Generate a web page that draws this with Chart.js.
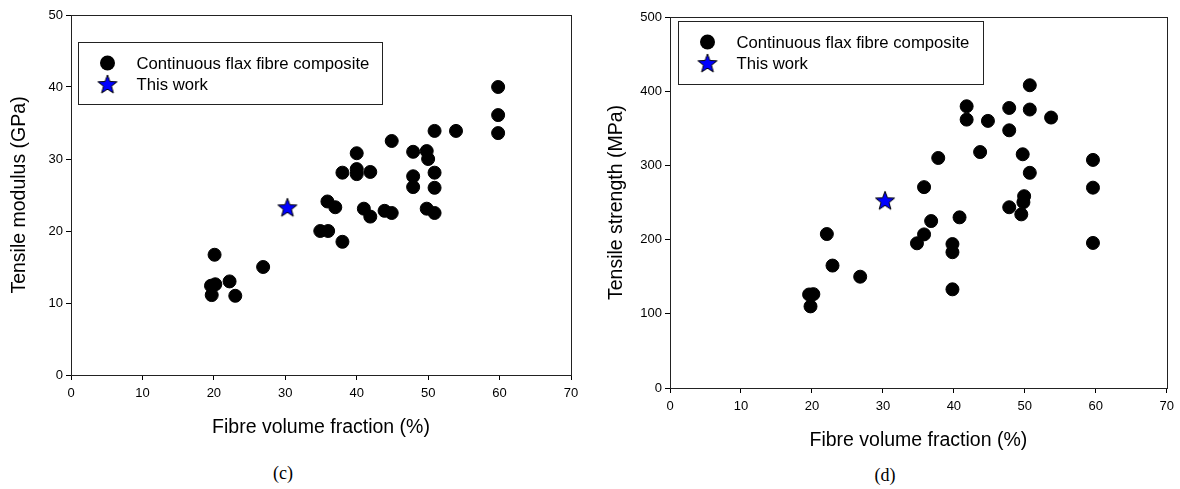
<!DOCTYPE html>
<html>
<head>
<meta charset="utf-8">
<script src="https://cdn.jsdelivr.net/npm/chart.js@4.4.0/dist/chart.umd.min.js"></script>
<style>
  body { margin: 0; background: #fff; }
  #wrap { position: relative; width: 1180px; height: 489px; overflow: hidden; }
  canvas { position: absolute; top: 0; }
  .caption { position: absolute; font-family: 'Liberation Serif', 'Times New Roman', serif; font-size: 18px; color: #000; transform: translate(-50%, -50%); }
</style>
</head>
<body>
<div id="wrap">
  <canvas id="modulus-chart" width="590" height="445" style="left:0px"></canvas>
  <canvas id="strength-chart" width="590" height="460" style="left:590px"></canvas>
  <div class="caption" style="left:283px; top:473px">(c)</div>
  <div class="caption" style="left:885px; top:475px">(d)</div>
</div>
<script>
// Fibre volume fraction (%) vs tensile modulus (GPa), literature data
const modulusFibre = [19.7, 19.6, 20.2, 20.1, 22.2, 23.0, 26.9, 34.9, 36.0, 35.9, 37.0, 38.0, 38.0,
    40.0, 40.0, 40.0, 41.0, 41.9, 41.9, 43.9, 44.9, 44.9, 47.9, 47.9, 47.9,
    49.8, 50.0, 49.8, 50.9, 50.9, 50.9, 50.9, 53.9, 59.8, 59.8, 59.8];
const modulusValue = [11.1, 12.4, 12.6, 16.7, 13.0, 11.0, 15.0, 20.0, 20.0, 24.1, 23.3, 18.5, 28.1,
    30.8, 28.6, 27.9, 23.1, 22.0, 28.2, 22.8, 22.5, 32.5, 31.0, 27.6, 26.1,
    31.1, 30.0, 23.1, 22.5, 33.9, 28.1, 26.0, 33.9, 40.0, 36.1, 33.6];
const modulusWorkFibre = [30.3];
const modulusWorkValue = [23.3];

// Fibre volume fraction (%) vs tensile strength (MPa), literature data
const strengthFibre = [19.6, 20.2, 19.8, 22.1, 22.9, 26.8, 34.8, 35.8, 35.8, 36.8, 37.8,
    39.8, 39.8, 39.8, 40.8, 41.8, 41.8, 43.7, 44.8, 47.8, 47.8, 47.8,
    49.7, 49.9, 49.8, 49.5, 50.7, 50.7, 50.7, 53.7, 59.6, 59.6, 59.6];
const strengthValue = [126, 126.5, 110, 207.5, 165, 150, 195, 207, 270.7, 225, 310,
    194, 183, 133, 230, 379.7, 361.7, 318, 360, 377.4, 347.3, 243.6,
    315, 258.5, 250.4, 234, 408, 375.3, 290, 364.5, 307.4, 270, 195.5];
const strengthWorkFibre = [30.3];
const strengthWorkValue = [253];

const xTicks = [0, 10, 20, 30, 40, 50, 60, 70];
const modulusTicks = [0, 10, 20, 30, 40, 50];
const strengthTicks = [0, 100, 200, 300, 400, 500];

const seriesLabels = ['Continuous flax fibre composite', 'This work'];

const SANS = "'Liberation Sans', Arial, Helvetica, sans-serif";

function toPoints(xs, ys) {
    return xs.map((x, i) => ({ x: x, y: ys[i] }));
}

// Filled blue star with black outline, used as point style
function makeStar(size) {
    const c = document.createElement('canvas');
    c.width = size;
    c.height = size;
    const g = c.getContext('2d');
    const R = size / 2 - 1;
    const r = R * 0.42;
    const cx = size / 2;
    const cy = size / 2 + (R - R * Math.cos(Math.PI / 5)) / 2;
    g.beginPath();
    for (let i = 0; i < 10; i++) {
        const a = -Math.PI / 2 + i * Math.PI / 5;
        const rad = i % 2 ? r : R;
        g.lineTo(cx + rad * Math.cos(a), cy + rad * Math.sin(a));
    }
    g.closePath();
    g.fillStyle = '#0000ff';
    g.fill();
    g.strokeStyle = '#000';
    g.lineWidth = 1;
    g.stroke();
    return c;
}
const starImage = makeStar(22);

// Box around the plot area (top and right edges too)
const framePlugin = {
    id: 'frame',
    beforeDatasetsDraw(chart) {
        const a = chart.chartArea;
        const ctx = chart.ctx;
        ctx.save();
        ctx.strokeStyle = '#222';
        ctx.lineWidth = 1;
        ctx.strokeRect(Math.round(a.left) + 0.5, Math.round(a.top) + 0.5,
            Math.round(a.right - a.left), Math.round(a.bottom - a.top));
        ctx.restore();
    }
};

// Framed legend inside the plot, like the original figure
const boxLegendPlugin = {
    id: 'boxLegend',
    afterDraw(chart, args, opts) {
        const a = chart.chartArea;
        const ctx = chart.ctx;
        const bx = Math.round(a.left + opts.dx) + 0.5;
        const by = Math.round(a.top + opts.dy) + 0.5;
        ctx.save();
        ctx.fillStyle = '#fff';
        ctx.fillRect(bx, by, opts.w, opts.h);
        ctx.strokeStyle = '#222';
        ctx.lineWidth = 1;
        ctx.strokeRect(bx, by, opts.w, opts.h);

        const mx = bx + 29;
        const y1 = by + 20.5;
        const y2 = by + 41.5;
        ctx.fillStyle = '#000';
        ctx.beginPath();
        ctx.arc(mx, y1, 7.5, 0, Math.PI * 2);
        ctx.fill();
        ctx.drawImage(starImage, mx - 11, y2 - 11);

        ctx.font = '16.7px ' + SANS;
        ctx.textBaseline = 'middle';
        ctx.fillStyle = '#000';
        ctx.fillText(chart.data.datasets[0].label, bx + 58, y1 + 1);
        ctx.fillText(chart.data.datasets[1].label, bx + 58, y2 + 1);
        ctx.restore();
    }
};

function buildChart(canvasId, cfg) {
    const ctx = document.getElementById(canvasId).getContext('2d');
    return new Chart(ctx, {
        type: 'scatter',
        data: {
            datasets: [
                {
                    label: seriesLabels[0],
                    data: toPoints(cfg.xs, cfg.ys),
                    pointStyle: 'circle',
                    pointRadius: 6.5,
                    pointBorderWidth: 1,
                    backgroundColor: '#000',
                    borderColor: '#000',
                    order: 1
                },
                {
                    label: seriesLabels[1],
                    data: toPoints(cfg.workX, cfg.workY),
                    pointStyle: starImage,
                    pointRadius: 11,
                    order: 0
                }
            ]
        },
        options: {
            responsive: false,
            animation: false,
            layout: { padding: { left: 0, top: cfg.top, right: cfg.right, bottom: 0 } },
            plugins: {
                legend: { display: false },
                tooltip: { enabled: false },
                boxLegend: cfg.legend
            },
            scales: {
                x: {
                    type: 'linear',
                    min: xTicks[0],
                    max: xTicks[xTicks.length - 1],
                    afterBuildTicks: s => { s.ticks = xTicks.map(v => ({ value: v })); },
                    ticks: { color: '#000', font: { family: SANS, size: 13 }, padding: 6, maxRotation: 0 },
                    grid: { drawOnChartArea: false, drawTicks: true, tickLength: 5, color: '#000' },
                    border: { color: '#222' },
                    title: {
                        display: true,
                        text: 'Fibre volume fraction (%)',
                        color: '#000',
                        font: { family: SANS, size: 19.5 },
                        padding: { top: 0, bottom: cfg.xTitlePad }
                    },
                    afterFit: s => { s.height = cfg.xHeight; }
                },
                y: {
                    type: 'linear',
                    min: cfg.yTicks[0],
                    max: cfg.yTicks[cfg.yTicks.length - 1],
                    afterBuildTicks: s => { s.ticks = cfg.yTicks.map(v => ({ value: v })); },
                    ticks: { color: '#000', font: { family: SANS, size: 13 }, padding: 3 },
                    grid: { drawOnChartArea: false, drawTicks: true, tickLength: 5, color: '#000' },
                    border: { color: '#222' },
                    title: {
                        display: true,
                        text: cfg.yTitle,
                        color: '#000',
                        font: { family: SANS, size: 19.5 },
                        padding: { top: cfg.yTitlePad, bottom: 0 }
                    },
                    afterFit: s => { s.width = cfg.yWidth; }
                }
            }
        },
        plugins: [framePlugin, boxLegendPlugin]
    });
}

// (c) tensile modulus
buildChart('modulus-chart', {
    xs: modulusFibre, ys: modulusValue,
    workX: modulusWorkFibre, workY: modulusWorkValue,
    yTicks: modulusTicks,
    yTitle: 'Tensile modulus (GPa)',
    top: 15, right: 19, yWidth: 71, xHeight: 70,
    xTitlePad: 5.3, yTitlePad: 8.3,
    legend: { dx: 7, dy: 27, w: 304, h: 62 }
});

// (d) tensile strength
buildChart('strength-chart', {
    xs: strengthFibre, ys: strengthValue,
    workX: strengthWorkFibre, workY: strengthWorkValue,
    yTicks: strengthTicks,
    yTitle: 'Tensile strength (MPa)',
    top: 17, right: 10, yWidth: 80, xHeight: 72,
    xTitlePad: 7.3, yTitlePad: 15.3,
    legend: { dx: 8, dy: 4, w: 305, h: 63 }
});
</script>
</body>
</html>
